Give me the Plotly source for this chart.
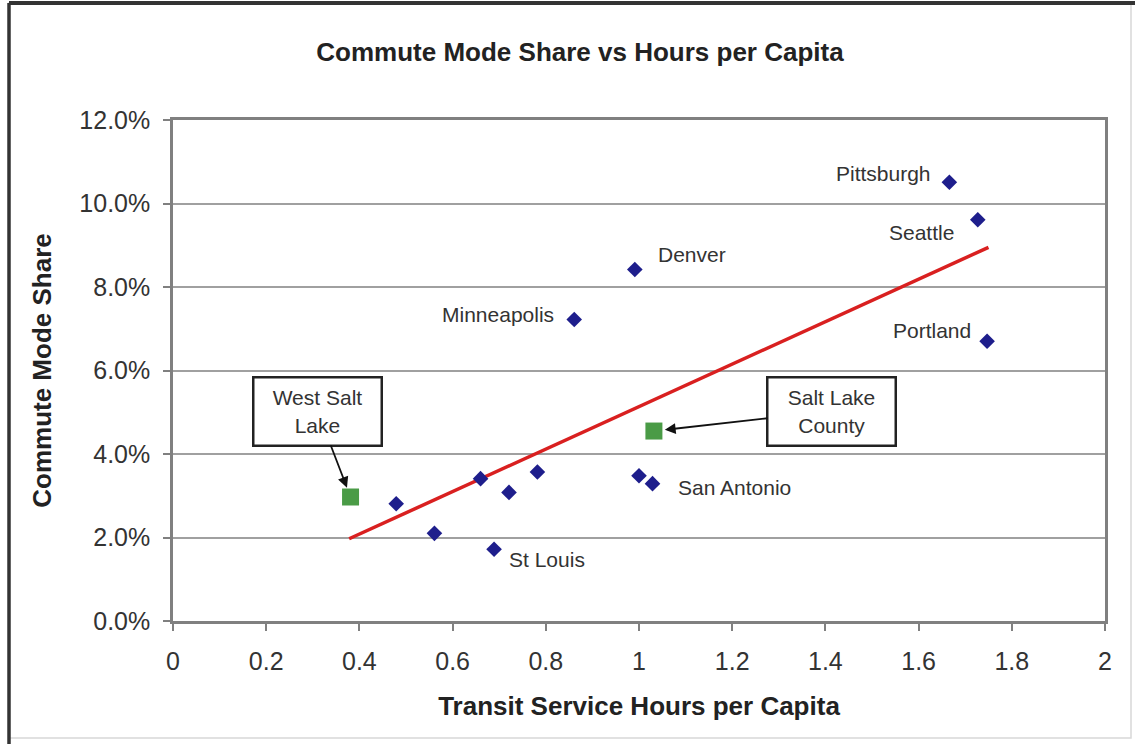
import plotly.graph_objects as go

# ---- data ----
city_x = [0.479, 0.561, 0.660, 0.721, 0.782, 0.689, 1.000, 1.029, 0.861, 0.991, 1.666, 1.727, 1.747]
city_y = [2.81, 2.10, 3.41, 3.08, 3.57, 1.72, 3.48, 3.29, 7.22, 8.42, 10.51, 9.61, 6.70]
city_names = ["", "", "", "", "", "St Louis", "", "San Antonio", "Minneapolis", "Denver",
              "Pittsburgh", "Seattle", "Portland"]

slc_names = ["West Salt\nLake", "Salt Lake\nCounty"]
slc_x = [0.381, 1.032]
slc_y = [2.97, 4.55]

trend_x = [0.378, 1.750]
trend_y = [1.97, 8.95]

x_tickvals = [0, 0.2, 0.4, 0.6, 0.8, 1.0, 1.2, 1.4, 1.6, 1.8, 2.0]
x_ticktext = ["0", "0.2", "0.4", "0.6", "0.8", "1", "1.2", "1.4", "1.6", "1.8", "2"]
y_tickvals = [0, 2, 4, 6, 8, 10, 12]
y_ticktext = ["0.0%", "2.0%", "4.0%", "6.0%", "8.0%", "10.0%", "12.0%"]

# label offsets (pixels) relative to points
label_shift = {
    "St Louis": (53, -10),
    "San Antonio": (82, -4),
    "Minneapolis": (-76, 5),
    "Denver": (57, 15),
    "Pittsburgh": (-66, 9),
    "Seattle": (-56, -13),
    "Portland": (-55, 11),
}

FONT = "Liberation Sans, Arial, sans-serif"

fig = go.Figure()

fig.add_trace(go.Scatter(
    x=trend_x, y=trend_y, mode="lines",
    line=dict(color="#D92020", width=3.5), hoverinfo="skip", showlegend=False))

fig.add_trace(go.Scatter(
    x=city_x, y=city_y, mode="markers",
    marker=dict(symbol="diamond", size=12, color="#1E1E8C",
                line=dict(width=0)),
    showlegend=False))

fig.add_trace(go.Scatter(
    x=slc_x, y=slc_y, mode="markers",
    marker=dict(symbol="square", size=17, color="#4A9B46",
                line=dict(width=0)),
    showlegend=False))

annotations = []
for name, x, y in zip(city_names, city_x, city_y):
    if not name:
        continue
    dx, dy = label_shift[name]
    annotations.append(dict(
        x=x, y=y, xref="x", yref="y", text=name, showarrow=False,
        xshift=dx, yshift=dy, xanchor="center", yanchor="middle",
        font=dict(family=FONT, size=21, color="#333333")))

# callout boxes
callout_pos = [(-33, -86, 10), (178, -20, 11)]
for name, x, y, (ax, ay, so) in zip(slc_names, slc_x, slc_y, callout_pos):
    annotations.append(dict(
        x=x, y=y, xref="x", yref="y", text=name.replace("\n", "<br>"),
        showarrow=True, ax=ax, ay=ay, axref="pixel", ayref="pixel",
        arrowhead=2, arrowsize=1.2, arrowwidth=1.8, arrowcolor="#111111",
        standoff=so,
        bordercolor="#222222", borderwidth=2.5, borderpad=2,
        bgcolor="white", width=122, height=62, align="center",
        font=dict(family=FONT, size=21, color="#333333")))

fig.update_layout(
    width=1135, height=744,
    margin=dict(l=173, r=30, t=120, b=123),
    paper_bgcolor="white", plot_bgcolor="white",
    font=dict(family=FONT, color="#222222"),
    title=dict(text="<b>Commute Mode Share vs Hours per Capita</b>",
               x=0.511, xanchor="center", y=0.93, yanchor="middle",
               font=dict(family=FONT, size=26, color="#222222")),
    annotations=annotations,
    showlegend=False,
    xaxis=dict(range=[0, 2], tickvals=x_tickvals, ticktext=x_ticktext,
               showgrid=False, zeroline=False,
               showline=True, linecolor="#808080", linewidth=2.5, mirror=True,
               ticks="outside", ticklen=7, tickcolor="#808080", tickwidth=1.5,
               ticklabelstandoff=9,
               tickfont=dict(family=FONT, size=25, color="#333333"),
               title=dict(text="<b>Transit Service Hours per Capita</b>",
                          font=dict(family=FONT, size=26, color="#222222"),
                          standoff=24)),
    yaxis=dict(range=[0, 12], tickvals=y_tickvals, ticktext=y_ticktext,
               showgrid=True, gridcolor="#A0A0A0", gridwidth=2, zeroline=False,
               showline=True, linecolor="#808080", linewidth=2.5, mirror=True,
               ticks="outside", ticklen=7, tickcolor="#808080", tickwidth=1.5,
               ticklabelstandoff=8,
               tickfont=dict(family=FONT, size=25, color="#333333"),
               title=dict(text="<b>Commute Mode Share</b>",
                          font=dict(family=FONT, size=26, color="#222222"),
                          standoff=21)),
    shapes=[
        dict(type="rect", xref="paper", yref="paper",
             x0=(9 - 173) / 932, x1=(1131 - 173) / 932,
             y0=1 - (738 - 120) / 501, y1=1 + (120 - 3) / 501,
             line=dict(color="#D8D8D8", width=1.5), layer="below"),
        dict(type="line", xref="paper", yref="paper",
             x0=(9 - 173) / 932, x1=(9 - 173) / 932,
             y0=1 - (744 - 120) / 501, y1=1 + (120 - 3) / 501,
             line=dict(color="#333333", width=3.5)),
        dict(type="line", xref="paper", yref="paper",
             x0=(9 - 173) / 932, x1=(1135 - 173) / 932,
             y0=1 + (120 - 3) / 501, y1=1 + (120 - 3) / 501,
             line=dict(color="#333333", width=4)),
    ],
)

fig.write_html("out.html",
               config={"displayModeBar": False},
               post_script="document.body.style.margin='0';"
                           "document.body.style.overflow='hidden';")
